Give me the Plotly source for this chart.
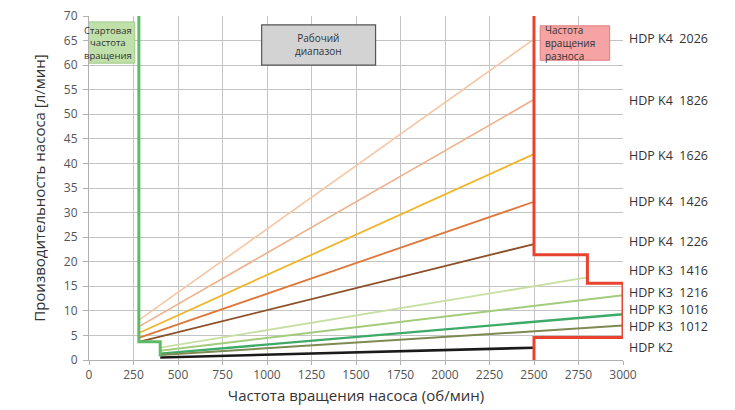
import plotly.graph_objects as go

# ---- data ----
series_names = ["HDP K4 2026", "HDP K4 1826", "HDP K4 1626", "HDP K4 1426", "HDP K4 1226",
                "HDP K3 1416", "HDP K3 1216", "HDP K3 1016", "HDP K3 1012", "HDP K2"]
rpm_start = [280, 280, 280, 280, 280, 400, 400, 400, 400, 400]
rpm_end = [2500, 2500, 2500, 2500, 2500, 2800, 3000, 3000, 3000, 2500]
flow_start = [8.1, 6.8, 5.5, 4.5, 3.7, 2.5, 1.9, 1.3, 1.0, 0.5]
flow_end = [65.3, 53.0, 41.9, 32.2, 23.6, 16.8, 13.2, 9.3, 7.0, 2.5]
label_y = [65.5, 52.9, 41.7, 32.2, 24.2, 18.3, 13.7, 10.3, 6.8, 2.6]
line_colors = ["#f7c6a4", "#efb08a", "#f2b52a", "#e07638", "#8c4f28",
               "#c8dea2", "#a2cc7c", "#3daa68", "#7d8a52", "#1a1a1a"]
line_widths = [1.6, 1.6, 1.8, 1.8, 1.8, 1.8, 2, 2.4, 2, 2.6]

start_rpm_x = [280, 280, 400, 400]
start_rpm_y = [70, 3.7, 3.7, 0.7]
over_rpm_x = [2500, 2500, 2800, 2800, 3000, 3000, 2500, 2500]
over_rpm_y = [70, 21.4, 21.4, 15.6, 15.6, 4.6, 4.6, 0]

x_ticks = [0, 250, 500, 750, 1000, 1250, 1500, 1750, 2000, 2250, 2500, 2750, 3000]
y_ticks = [0, 5, 10, 15, 20, 25, 30, 35, 40, 45, 50, 55, 60, 65, 70]

FONT = "Open Sans"

fig = go.Figure()
for i, name in enumerate(series_names):
    fig.add_trace(go.Scatter(
        x=[rpm_start[i], rpm_end[i]], y=[flow_start[i], flow_end[i]],
        mode="lines", name=name,
        line=dict(color=line_colors[i], width=line_widths[i]),
        showlegend=False, hoverinfo="skip"))

fig.add_trace(go.Scatter(x=start_rpm_x, y=start_rpm_y, mode="lines",
                         line=dict(color="#5dbb66", width=3), showlegend=False))
fig.add_trace(go.Scatter(x=over_rpm_x, y=over_rpm_y, mode="lines",
                         line=dict(color="#e8432e", width=3), showlegend=False))

# right-side series labels
for i, name in enumerate(series_names):
    parts = name.split(" ")
    txt = " ".join(parts[:2]) + ("&nbsp; " + parts[2] if len(parts) > 2 else "")
    fig.add_annotation(x=1.01, xref="paper", y=label_y[i], yref="y", text=txt,
                       showarrow=False, xanchor="left", yanchor="middle", borderpad=0,
                       font=dict(family=FONT, size=12.5, color="#333333"))

# boxes
fig.add_shape(type="rect", x0=-42, x1=257, y0=60.4, y1=68.8, xref="x", yref="y",
              fillcolor="#bfe0a8", line=dict(color="#9fcc88", width=1), layer="above")
fig.add_annotation(x=107, y=64.6, text="Стартовая<br>частота<br>вращения", showarrow=False,
                   font=dict(family=FONT, size=9.5, color="#333333"), align="center")

fig.add_shape(type="rect", x0=970, x1=1610, y0=60.0, y1=68.2, xref="x", yref="y",
              fillcolor="#d3d3d3", line=dict(color="#555555", width=1.2), layer="above")
fig.add_annotation(x=1290, y=64.1, text="Рабочий<br>диапазон", showarrow=False,
                   font=dict(family=FONT, size=10, color="#333333"), align="center")

fig.add_shape(type="rect", x0=2535, x1=2925, y0=61.0, y1=68.0, xref="x", yref="y",
              fillcolor="#f5a3a3", line=dict(color="#e07b7b", width=1), layer="above")
fig.add_annotation(x=2550, y=64.5, text="Частота<br>вращения<br>разноса", showarrow=False,
                   xanchor="left", font=dict(family=FONT, size=10, color="#333333"), align="left")

fig.update_layout(
    width=735, height=410,
    margin=dict(l=89, r=112, t=16, b=50, autoexpand=False),
    paper_bgcolor="white", plot_bgcolor="white",
    font=dict(family=FONT, color="#444444"),
)
fig.update_xaxes(range=[0, 3000], tickvals=x_ticks, showgrid=True, gridcolor="#c4c4c4",
                 gridwidth=1, zeroline=False, showline=True, linecolor="#b0b0b0",
                 ticks="outside", ticklen=4, tickcolor="#b0b0b0", automargin=False,
                 tickfont=dict(family=FONT, size=12, color="#555555"),
                 title=dict(text="Частота вращения насоса (об/мин)", standoff=8,
                            font=dict(family=FONT, size=15, color="#333333")))
fig.update_yaxes(range=[0, 70], tickvals=y_ticks, showgrid=True, gridcolor="#c4c4c4",
                 gridwidth=1, zeroline=False, showline=True, linecolor="#b0b0b0",
                 ticks="outside", ticklen=5, tickcolor="#b0b0b0", automargin=False,
                 ticklabelstandoff=3,
                 tickfont=dict(family=FONT, size=12, color="#555555"),
                 title=dict(text="Производительность насоса [л/мин]", standoff=14,
                            font=dict(family=FONT, size=15, color="#333333")))

fig.write_html("out.html", config={"displayModeBar": False},
               post_script="document.body.style.margin='0px';")
